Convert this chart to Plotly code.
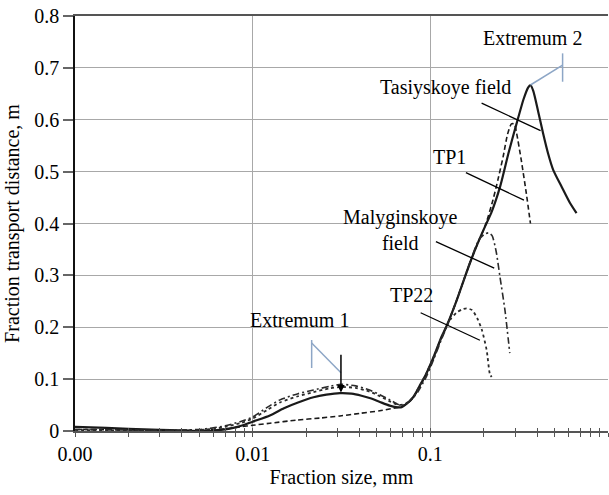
import math
import plotly.graph_objects as go

# ---------------- data ----------------
tas_x = [0.001, 0.0015, 0.002, 0.003, 0.004, 0.005, 0.006, 0.007, 0.008, 0.009, 0.01, 0.0125, 0.015, 0.018,
         0.022, 0.026, 0.031, 0.036, 0.041, 0.046, 0.052, 0.059, 0.064, 0.069, 0.074, 0.08, 0.088, 0.095,
         0.105, 0.115, 0.124, 0.14, 0.155, 0.171, 0.187, 0.203, 0.22, 0.247, 0.275, 0.306, 0.335, 0.355,
         0.366, 0.38, 0.405, 0.431, 0.46, 0.492, 0.55, 0.61, 0.665]
tas_y = [0.008, 0.006, 0.004, 0.002, 0.001, 0.0, 0.001, 0.003, 0.007, 0.012, 0.018, 0.03, 0.044, 0.055,
         0.065, 0.07, 0.073, 0.072, 0.068, 0.063, 0.056, 0.049, 0.046, 0.046, 0.053, 0.065, 0.09, 0.111,
         0.145, 0.18, 0.204, 0.25, 0.293, 0.333, 0.366, 0.394, 0.42, 0.471, 0.535, 0.593, 0.64, 0.662,
         0.667, 0.655, 0.615, 0.574, 0.535, 0.503, 0.47, 0.44, 0.42]

tp1_x = [0.001, 0.002, 0.003, 0.005, 0.007, 0.0085, 0.01, 0.0125, 0.0177, 0.024, 0.031, 0.04, 0.052, 0.06,
         0.067, 0.074, 0.08, 0.088, 0.095, 0.105, 0.115, 0.124, 0.14, 0.155, 0.171, 0.187, 0.203, 0.225,
         0.24, 0.257, 0.272, 0.286, 0.297, 0.306, 0.325, 0.347, 0.366]
tp1_y = [0.003, 0.002, 0.001, 0.001, 0.004, 0.008, 0.011, 0.015, 0.021, 0.025, 0.029, 0.034, 0.039, 0.043,
         0.046, 0.053, 0.064, 0.088, 0.11, 0.143, 0.178, 0.203, 0.25, 0.293, 0.333, 0.366, 0.394, 0.445,
         0.484, 0.529, 0.572, 0.592, 0.592, 0.574, 0.522, 0.458, 0.40]

mal_x = [0.001, 0.002, 0.003, 0.004, 0.005, 0.006, 0.007, 0.0085, 0.01, 0.012, 0.01425, 0.018, 0.022, 0.027,
         0.0314, 0.038, 0.0455, 0.052, 0.0593, 0.066, 0.0703, 0.078, 0.085, 0.095, 0.105, 0.115, 0.124,
         0.14, 0.155, 0.171, 0.187, 0.203, 0.213, 0.223, 0.235, 0.2466, 0.263, 0.28]
mal_y = [0.003, 0.002, 0.001, 0.002, 0.003, 0.006, 0.01, 0.018, 0.027, 0.045, 0.06, 0.072, 0.079, 0.086,
         0.09, 0.087, 0.079, 0.07, 0.06, 0.051, 0.05, 0.06, 0.075, 0.105, 0.14, 0.175, 0.202,
         0.25, 0.293, 0.335, 0.368, 0.38, 0.382, 0.376, 0.345, 0.297, 0.233, 0.15]

tp22_x = [0.001, 0.002, 0.003, 0.004, 0.005, 0.006, 0.007, 0.0085, 0.01, 0.012, 0.01425, 0.018, 0.022, 0.027,
          0.0314, 0.038, 0.0455, 0.052, 0.0593, 0.066, 0.072, 0.08, 0.088, 0.095, 0.105, 0.115, 0.122,
          0.129, 0.14, 0.15, 0.16, 0.172, 0.185, 0.195, 0.2075, 0.216, 0.2213]
tp22_y = [0.002, 0.001, 0.001, 0.001, 0.002, 0.004, 0.008, 0.015, 0.024, 0.04, 0.055, 0.067, 0.075, 0.082,
          0.085, 0.083, 0.076, 0.067, 0.057, 0.05, 0.052, 0.065, 0.09, 0.111, 0.145, 0.178, 0.198,
          0.214, 0.228, 0.234, 0.2365, 0.233, 0.215, 0.195, 0.156, 0.111, 0.104]

x_tick_vals = [0.001, 0.01, 0.1, 1]
x_tick_text = ["0.00", "0.01", "0.1", "1"]
y_tick_vals = [0, 0.1, 0.2, 0.3, 0.4, 0.5, 0.6, 0.7, 0.8]
y_tick_text = ["0", "0.1", "0.2", "0.3", "0.4", "0.5", "0.6", "0.7", "0.8"]
x_minor_vals = [k * 10 ** e for e in (-3, -2, -1) for k in range(2, 10)]

# labels: text, x (mm), y (m), anchor
labels = [
    ("Extremum 2", 0.378, 0.757, "center"),
    ("Tasiyskoye field", 0.292, 0.663, "right"),
    ("TP1", 0.129, 0.528, "center"),
    ("Malyginskoye<br>field", 0.0675, 0.388, "center"),
    ("TP22", 0.0785, 0.262, "center"),
    ("Extremum 1", 0.01845, 0.214, "center"),
]

# leader lines (mm, m)
leaders = [
    ([0.1944, 0.4175], [0.632, 0.579]),
    ([0.1586, 0.3363], [0.498, 0.445]),
    ([0.1075, 0.2289], [0.365, 0.314]),
    ([0.0882, 0.1901], [0.228, 0.175]),
]
blue_marks = [
    ([0.02148, 0.02148], [0.1754, 0.1214]),
    ([0.02148, 0.03141], [0.1696, 0.1124]),
    ([0.366, 0.5552], [0.667, 0.7055]),
    ([0.5552, 0.5552], [0.728, 0.6733]),
]
ext1_x, ext1_y, ext1_top = 0.0314, 0.074, 0.150

FONT = "Liberation Serif"

fig = go.Figure()

series = [
    ("Tasiyskoye field", tas_x, tas_y, dict(color="#1a1a1a", width=2.2, dash="solid")),
    ("TP1", tp1_x, tp1_y, dict(color="#1a1a1a", width=1.6, dash="5px,3px")),
    ("Malyginskoye field", mal_x, mal_y, dict(color="#2a2a2a", width=1.6, dash="7px,3px,2px,3px")),
    ("TP22", tp22_x, tp22_y, dict(color="#2a2a2a", width=1.8, dash="dot")),
]
for name, xs, ys, ln in series:
    fig.add_trace(go.Scatter(x=xs, y=ys, mode="lines", name=name, line=dict(shape="spline", smoothing=0.6, **ln),
                             showlegend=False))

for xs, ys in leaders:
    fig.add_trace(go.Scatter(x=xs, y=ys, mode="lines", line=dict(color="black", width=1.3),
                             showlegend=False, hoverinfo="skip"))
for xs, ys in blue_marks:
    fig.add_trace(go.Scatter(x=xs, y=ys, mode="lines", line=dict(color="#8da6c6", width=1.5),
                             showlegend=False, hoverinfo="skip"))

annotations = []
for text, x, y, anchor in labels:
    annotations.append(dict(text=text, x=math.log10(x), y=y, xref="x", yref="y", showarrow=False,
                            xanchor=anchor, yanchor="middle", font=dict(family=FONT, size=20, color="black")))
annotations.append(dict(text="", x=math.log10(ext1_x), y=ext1_y, xref="x", yref="y",
                        ax=math.log10(ext1_x), ay=ext1_top, axref="x", ayref="y",
                        showarrow=True, arrowhead=2, arrowsize=1, arrowwidth=1.5, arrowcolor="black"))

fig.update_layout(
    width=609, height=495,
    margin=dict(l=75, r=1, t=16, b=64),
    paper_bgcolor="white", plot_bgcolor="white",
    font=dict(family=FONT, size=20, color="black"),
    annotations=annotations,
    xaxis=dict(
        type="log", range=[-3, 0],
        tickvals=x_tick_vals, ticktext=x_tick_text,
        ticks="outside", ticklen=4, tickcolor="#555", tickwidth=1.2,
        minor=dict(tickvals=x_minor_vals, ticks="outside", ticklen=4, tickcolor="#555", tickwidth=1.2, showgrid=False),
        showgrid=True, gridcolor="#a8a8a8", gridwidth=1.2,
        showline=True, linecolor="#555", linewidth=1.5, mirror=True,
        zeroline=False,
        title=dict(text="Fraction size, mm", standoff=6, font=dict(family=FONT, size=20)),
        tickfont=dict(family=FONT, size=20),
    ),
    xaxis2=dict(
        type="log", range=[-3, 0], overlaying="x", anchor="y", side="bottom",
        tickvals=x_tick_vals, showticklabels=False,
        ticks="inside", ticklen=3, tickcolor="#555", tickwidth=1.2,
        minor=dict(tickvals=x_minor_vals, ticks="inside", ticklen=3, tickcolor="#555", tickwidth=1.2, showgrid=False),
        showgrid=False, showline=False, zeroline=False,
    ),
    yaxis=dict(
        range=[0, 0.8],
        tickvals=y_tick_vals, ticktext=y_tick_text,
        ticks="outside", ticklen=10, tickcolor="#666", tickwidth=1.5,
        showgrid=True, gridcolor="#a8a8a8", gridwidth=1.2,
        showline=True, linecolor="#111", linewidth=1.5,
        zeroline=False,
        title=dict(text="Fraction transport distance, m", standoff=9, font=dict(family=FONT, size=20)),
        tickfont=dict(family=FONT, size=20),
    ),
)
# invisible trace to activate xaxis2 ticks
fig.add_trace(go.Scatter(x=[0.001], y=[0], xaxis="x2", mode="markers", marker=dict(opacity=0),
                         showlegend=False, hoverinfo="skip"))

fig.write_html("out.html")
